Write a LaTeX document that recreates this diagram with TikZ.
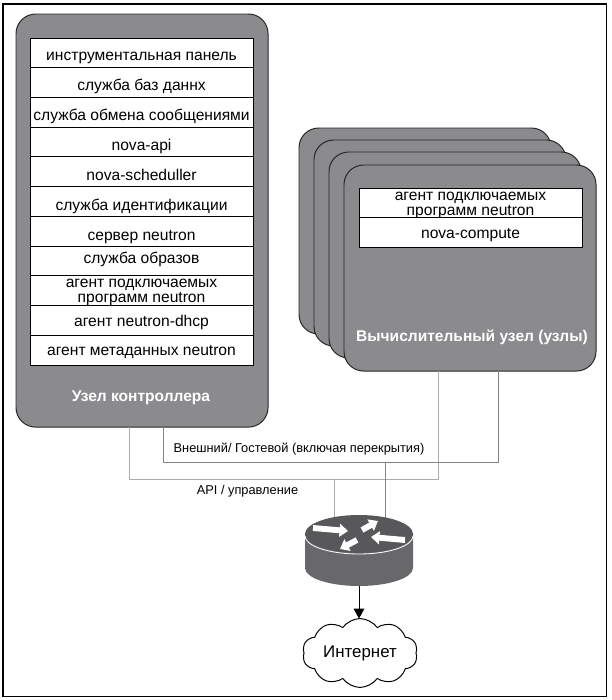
\documentclass[tikz,border=0pt]{standalone}
\usepackage{fontspec}
\setmainfont{Liberation Sans}
\usepackage{xcolor}
\definecolor{NodeGray}{HTML}{8B8B8E}
\definecolor{RouterTop}{HTML}{58585A}
\definecolor{RouterSide}{HTML}{68686A}
\definecolor{ExternalLine}{HTML}{858585}
\definecolor{ApiLine}{HTML}{ABABAB}
\usepackage{tikz}
\usetikzlibrary{arrows.meta, positioning, shapes.geometric, shapes.symbols}
\tikzset{
    hostbox/.style={draw=black!85, fill=NodeGray, line width=0.7pt, rounded corners=14pt, anchor=north west, minimum width=6.3cm, outer sep=0pt, inner sep=0pt},
    rowbox/.style={draw=black, fill=white, line width=0.7pt, minimum width=5.575cm, minimum height=0.743cm, outer sep=0pt, inner sep=0pt, align=center, text height=11pt, text depth=0pt, font=\fontsize{11.1}{10.7}\selectfont},
    tallrow/.style={rowbox, text height=17.4pt},
    hostlabel/.style={text=white, font=\fontsize{11.05}{13}\selectfont\bfseries},
    netlabel/.style={font=\fontsize{9.1}{11}\selectfont},
    externalnet/.style={ExternalLine, line width=0.6pt},
    apinet/.style={ApiLine, line width=0.6pt},
    routerarrow/.style={white, line width=4.2pt, -{Triangle[length=6pt, width=9pt]}}
}
\begin{document}
\begin{tikzpicture}[x=0.025cm, y=-0.025cm]
    \useasboundingbox (0, 0) rectangle (612, 700);
    \node[draw=black, line width=0.8pt, anchor=north west, minimum width=15.075cm, minimum height=17.3cm, outer sep=0pt, inner sep=0pt] (frame) at (3, 4) {};
    % controller
    \node[hostbox, minimum height=10.325cm] (ctrl) at (16, 14) {};
    \node[rowbox, anchor=north west] (dash) at (30, 38) {инструментальная панель};
    \node[rowbox, below=0pt of dash] (db) {служба баз даннх};
    \node[rowbox, below=0pt of db] (mq) {служба обмена сообщениями};
    \node[rowbox, text height=12.5pt, below=0pt of mq] (api) {nova-api};
    \node[rowbox, text height=12.5pt, below=0pt of api] (sched) {nova-scheduller};
    \node[rowbox, text height=13pt, below=0pt of sched] (ident) {служба идентификации};
    \node[rowbox, text height=13pt, below=0pt of ident] (server) {сервер neutron};
    \node[rowbox, text height=4pt, below=0pt of server] (images) {служба образов};
    \node[tallrow, below=0pt of images] (plugin) {агент подключаемых\\программ neutron};
    \node[rowbox, text height=8.2pt, below=0pt of plugin] (dhcp) {агент neutron-dhcp};
    \node[rowbox, text height=8.2pt, below=0pt of dhcp] (meta) {агент метаданных neutron};
    \node[hostlabel] (ctrllabel) at (141, 398) {Узел контроллера};
    % compute stack
    \node[hostbox, minimum height=5.15cm] (stackA) at (299, 128) {};
    \node[hostbox, minimum height=5.15cm] (stackB) at (314, 140) {};
    \node[hostbox, minimum height=5.15cm] (stackC) at (329, 152) {};
    \node[hostbox, minimum height=5.15cm] (compute) at (344, 165) {};
    \node[tallrow, anchor=north west] (cplugin) at (359, 188) {агент подключаемых\\программ neutron};
    \node[rowbox, text height=8.2pt, below=0pt of cplugin] (novacompute) {nova-compute};
    \node[hostlabel] (computelabel) at (472, 337) {Вычислительный узел (узлы)};
    % networks
    \coordinate (extleft) at (163, 462);
    \coordinate (extright) at (498, 462);
    \coordinate (extrouter) at (385, 462);
    \coordinate (apileft) at (129.5, 479);
    \coordinate (apiright) at (438, 479);
    \coordinate (apirouter) at (334, 479);
    \coordinate (routerin) at (385, 525);
    \coordinate (routerap) at (334, 525);
    \draw[apinet] (ctrl.south -| apileft) -- (apileft) -- (apiright) -- (compute.south -| apiright);
    \draw[apinet] (apirouter) -- (routerap);
    \draw[externalnet] (ctrl.south -| extleft) -- (extleft) -- (extright) -- (compute.south -| extright);
    \draw[externalnet] (extrouter) -- (routerin);
    \node[netlabel] (extlabel) at (299, 449) {Внешний/ Гостевой (включая перекрытия)};
    \node[netlabel] (apilabel) at (247.5, 491) {API / управление};
    % router
    \fill[RouterSide] (305, 534) -- (305, 568) arc[x radius=54, y radius=18, start angle=180, end angle=0] -- (413, 534) -- cycle;
    \node[ellipse, fill=RouterTop, minimum width=2.7cm, minimum height=0.95cm, outer sep=0pt, inner sep=0pt] (router) at (359, 534) {};
    \draw[white, line width=0.6pt] (305, 536) arc[x radius=54, y radius=18, start angle=180, end angle=0];
    \draw[routerarrow] (313, 528) -- (348, 531);
    \draw[routerarrow] (362, 530) -- (378, 521);
    \draw[routerarrow] (405, 540) -- (371, 537);
    \draw[routerarrow] (357, 540) -- (340, 549);
    \coordinate (routerbase) at (359, 586);
    % internet
    \node[cloud, cloud puffs=10, cloud puff arc=110, aspect=1.9, draw=black, line width=0.7pt, fill=white, minimum width=2.875cm, minimum height=1.6cm, outer sep=0pt, inner sep=0pt, font=\fontsize{12}{15}\selectfont] (inet) at (360, 653) {Интернет};
    \draw[black, line width=0.7pt, -{Triangle[length=7pt, width=7.5pt]}] (routerbase) -- (routerbase |- inet.north);
\end{tikzpicture}
\end{document}
